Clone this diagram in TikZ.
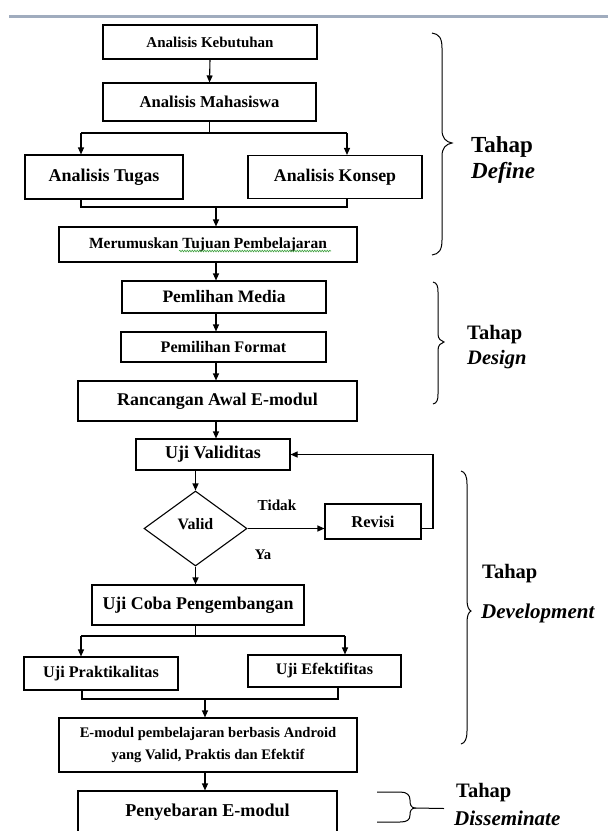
\documentclass[tikz,border=0pt]{standalone}
\usepackage{fontspec}
\setmainfont{Liberation Serif}
\usetikzlibrary{arrows.meta,shapes.geometric,decorations.pathmorphing}
\newcommand{\fsz}[1]{\fontsize{#1}{#1}\selectfont}
\definecolor{rulecol}{RGB}{160,172,190}
\definecolor{spellgreen}{RGB}{60,160,60}
\begin{document}
\begin{tikzpicture}[x=1pt,y=-1pt,
  box/.style={draw, line width=1.1pt, inner sep=0pt, align=center},
  arr/.style={line width=1.1pt, -{Triangle[length=7pt,width=6pt]}},
  ln/.style={line width=1.1pt},
  brace/.style={line width=1pt},
  lab/.style={inner sep=0pt, anchor=west}]
\useasboundingbox (0,0) rectangle (608,831);
\clip (0,0) rectangle (608,831);

% top rule
\coordinate (rA) at (9,16);
\coordinate (rB) at (608,16);
\draw[rulecol, line width=3pt] (rA) -- (rB);

% Define stage
\node[box, minimum width=214pt, minimum height=34pt, font=\bfseries\fsz{15}] (keb) at (210,42) {Analisis Kebutuhan};
\node[box, minimum width=213pt, minimum height=38pt, font=\bfseries\fsz{16.6}] (mah) at (209.5,102) {Analisis Mahasiswa};
\node[box, minimum width=158pt, minimum height=44pt, font=\bfseries\fsz{18}] (tug) at (104,177) {Analisis Tugas};
\node[box, minimum width=174pt, minimum height=43pt, font=\bfseries\fsz{17.8}] (kon) at (335,177) {Analisis Konsep};
\node[box, minimum width=298pt, minimum height=35pt, font=\bfseries\fsz{15.5}] (mer) at (208,244.5) {Merumuskan Tujuan Pembelajaran};

% Design stage
\node[box, minimum width=204pt, minimum height=32pt, font=\bfseries\fsz{17.5}] (med) at (224,297) {Pemlihan Media};
\node[box, minimum width=205pt, minimum height=30pt, font=\bfseries\fsz{16.1}] (fmt) at (223.5,347) {Pemilihan Format};
\node[box, minimum width=279pt, minimum height=40pt, font=\bfseries\fsz{17.9}] (ran) at (217.5,401) {Rancangan Awal E-modul};

% Development stage
\node[box, minimum width=154pt, minimum height=31pt, font=\bfseries\fsz{18}] (uji) at (213,454.5) {Uji Validitas};
\node[draw, line width=1.1pt, diamond, inner sep=0pt, minimum width=103pt, minimum height=75pt, font=\bfseries\fsz{15.9}] (valid) at (195.5,528.5) {\raisebox{10pt}{Valid}};
\node[box, minimum width=96pt, minimum height=35pt, font=\bfseries\fsz{16.5}] (rev) at (373,521.5) {Revisi};
\node[inner sep=0pt, font=\bfseries\fsz{15.2}] (tidak) at (277,505) {Tidak};
\node[inner sep=0pt, font=\bfseries\fsz{14.7}] (ya) at (263,555) {Ya};
\node[box, minimum width=212pt, minimum height=40pt, font=\bfseries\fsz{17.9}] (coba) at (198,605) {Uji Coba Pengembangan};
\node[box, minimum width=154pt, minimum height=33pt, font=\bfseries\fsz{16.2}] (prk) at (101,673.5) {Uji Praktikalitas};
\node[box, minimum width=153pt, minimum height=32pt, font=\bfseries\fsz{16.1}] (efk) at (324.5,671) {Uji Efektifitas};
\node[box, minimum width=298pt, minimum height=54pt, font=\bfseries\fontsize{14.6}{22}\selectfont] (emod) at (208,745) {E-modul pembelajaran berbasis Android\\yang Valid, Praktis dan Efektif};

% Disseminate stage
\node[box, minimum width=259pt, minimum height=60pt, font=\bfseries\fsz{18.1}] (pen) at (207.5,821) {\raisebox{22pt}{Penyebaran E-modul}};

% spell-check underline
\coordinate (sgA) at (179,251);
\coordinate (sgB) at (331,251);
\draw[spellgreen, line width=0.6pt, decorate, decoration={snake, amplitude=0.8pt, segment length=2.5pt}] (sgA) -- (sgB);

% connectors: Define
\draw[arr] (keb.south) -- (mah.north);
\coordinate (bL) at (81,133);
\coordinate (bR) at (347,133);
\draw[ln] (mah.south) -- (mah.south |- bL);
\draw[ln] (bL) -- (bR);
\draw[arr] (bL) -- (bL |- tug.north);
\draw[arr] (bR) -- (bR |- kon.north);
\coordinate (mL) at (81,207);
\coordinate (mR) at (347,207);
\coordinate (mM) at (216,207);
\draw[ln] (mL |- tug.south) -- (mL) -- (mR) -- (mR |- kon.south);
\draw[arr] (mM) -- (mM |- mer.north);

% connectors: Design
\coordinate (cx) at (216,0);
\draw[arr] (cx |- mer.south) -- (cx |- med.north);
\draw[arr] (cx |- med.south) -- (cx |- fmt.north);
\draw[arr] (cx |- fmt.south) -- (cx |- ran.north);
\draw[arr] (cx |- ran.south) -- (cx |- uji.north);

% connectors: Development
\draw[arr] (valid.north |- uji.south) -- (valid.north);
\draw[arr] (valid.east) -- (valid.east -| rev.west);
\coordinate (fb) at (433,454.5);
\draw[arr] (valid.east -| rev.east) -| (fb) -- (uji.east);
\draw[arr] (valid.south) -- (valid.south |- coba.north);
\coordinate (dL) at (81,636);
\coordinate (dR) at (345,636);
\draw[ln] (valid.south |- coba.south) -- (valid.south |- dL);
\draw[ln] (dL) -- (dR);
\draw[arr] (dL) -- (dL |- prk.north);
\draw[arr] (dR) -- (dR |- efk.north);
\coordinate (eL) at (82,699);
\coordinate (eR) at (338,699);
\coordinate (eM) at (205,699);
\draw[ln] (eL |- prk.south) -- (eL) -- (eR) -- (eR |- efk.south);
\draw[arr] (eM) -- (eM |- emod.north);
\draw[arr] (eM |- emod.south) -- (eM |- pen.north);

% braces
\draw[brace] (432,33) .. controls (439,34) and (442,38) .. (442,48) -- (442,130)
  .. controls (442,138) and (446,142) .. (452,143)
  .. controls (446,144) and (442,148) .. (442,156) -- (442,240)
  .. controls (442,250) and (439,254) .. (432,255);
\draw[brace] (433,282) .. controls (437,283) and (438,286) .. (438,292) -- (438,334)
  .. controls (438,339) and (441,341) .. (444,342)
  .. controls (441,343) and (438,345) .. (438,350) -- (438,394)
  .. controls (438,400) and (437,403) .. (433,404);
\draw[brace] (461,471) .. controls (465,472) and (467,476) .. (467,484) -- (467,600)
  .. controls (467,607) and (469,610) .. (471,611)
  .. controls (469,612) and (467,615) .. (467,622) -- (467,731)
  .. controls (467,739) and (465,743) .. (461,744);
\draw[brace] (377,792) -- (400,792) .. controls (407,792) and (410,795) .. (410,800)
  .. controls (410,805) and (411,807.5) .. (415,808)
  .. controls (411,808.5) and (410,811) .. (410,815)
  .. controls (410,820) and (407,822) .. (400,822) -- (377,822);
\coordinate (dsT) at (415,808);
\coordinate (dsE) at (444,808.5);
\draw[brace] (dsT) -- (dsE);

% stage labels
\node[lab, font=\bfseries\fsz{23}] (t1) at (471,147) {Tahap};
\node[lab, font=\bfseries\itshape\fsz{23}] (d1) at (471,173) {Define};
\node[lab, font=\bfseries\fsz{20.5}] (t2) at (467,335) {Tahap};
\node[lab, font=\bfseries\itshape\fsz{20.5}] (d2) at (467,360) {Design};
\node[lab, font=\bfseries\fsz{20.5}] (t3) at (482,574) {Tahap};
\node[lab, font=\bfseries\itshape\fsz{21}] (d3) at (481,613) {Development};
\node[lab, font=\bfseries\fsz{20.5}] (t4) at (456,793) {Tahap};
\node[lab, font=\bfseries\itshape\fsz{21}] (d4) at (454,818) {Disseminate};
\end{tikzpicture}
\end{document}
